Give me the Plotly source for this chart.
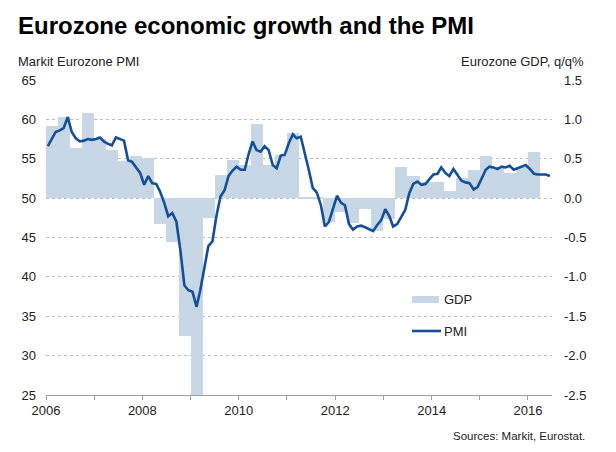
import pandas as pd
import plotly.graph_objects as go

# ---------------- data ----------------
# Markit Eurozone composite PMI, monthly Jan 2006 - Jun 2016
pmi_values = [
    56.6, 57.6, 58.4, 58.6, 58.9, 60.3, 58.4, 57.6, 57.2, 57.3, 57.5, 57.4,   # 2006
    57.5, 57.7, 57.2, 56.9, 56.7, 57.7, 57.5, 57.3, 54.8, 54.6, 53.9, 53.2,   # 2007
    51.7, 52.8, 51.9, 51.8, 50.8, 49.4, 47.7, 48.1, 47.0, 43.4, 38.9, 38.3,   # 2008
    38.1, 36.2, 38.3, 41.1, 43.9, 44.5, 47.7, 50.2, 51.0, 52.8, 53.5, 54.0,   # 2009
    53.6, 53.6, 55.5, 57.2, 56.1, 55.9, 56.6, 56.1, 54.2, 53.8, 55.4, 55.5,   # 2010
    57.0, 58.1, 57.6, 57.8, 55.9, 53.6, 51.3, 50.7, 49.1, 46.4, 47.0, 48.6,   # 2011
    50.3, 49.4, 49.1, 46.7, 46.0, 46.4, 46.5, 46.3, 46.0, 45.8, 46.6, 47.2,   # 2012
    48.6, 47.7, 46.4, 46.7, 47.6, 48.5, 50.6, 51.8, 52.1, 51.7, 51.8, 52.4,   # 2013
    53.0, 53.1, 53.9, 53.2, 52.8, 53.7, 53.0, 52.2, 52.0, 51.9, 51.1, 51.4,   # 2014
    52.5, 53.6, 54.0, 53.9, 53.7, 54.0, 53.9, 54.1, 53.6, 53.8, 54.1, 54.2,   # 2015
    53.7, 53.1, 53.0, 53.0, 53.0, 52.8,                                       # 2016
]
pmi_start = "2006-01-01"

# Eurozone GDP q/q %, quarterly 2006Q1 - 2016Q1
gdp_values = [
    0.92, 1.03, 0.64, 1.08,     # 2006
    0.75, 0.61, 0.47, 0.54,     # 2007
    0.51, -0.33, -0.56, -1.75,  # 2008
    -2.95, -0.25, 0.29, 0.49,   # 2009
    0.42, 0.94, 0.42, 0.55,     # 2010
    0.83, 0.02, 0.02, -0.30,    # 2011
    -0.17, -0.31, -0.14, -0.42, # 2012
    -0.27, 0.39, 0.28, 0.20,    # 2013
    0.20, 0.09, 0.25, 0.36,     # 2014
    0.54, 0.40, 0.32, 0.40,     # 2015
    0.58,                       # 2016
]
gdp_start = "2006-01-01"

x_tick_years = list(range(2006, 2017))
x_tick_labels = ["2006", "", "2008", "", "2010", "", "2012", "", "2014", "", "2016"]
pmi_ticks = [25, 30, 35, 40, 45, 50, 55, 60, 65]
gdp_ticks = [-2.5, -2.0, -1.5, -1.0, -0.5, 0.0, 0.5, 1.0, 1.5]
gdp_tick_labels = ["-2.5", "-2.0", "-1.5", "-1.0", "-0.5", "0.0", "0.5", "1.0", "1.5"]

title_text = "Eurozone economic growth and the PMI"
left_title = "Markit Eurozone PMI"
right_title = "Eurozone GDP, q/q%"
source_text = "Sources: Markit, Eurostat."

# ---------------- styling ----------------
FONT = "Liberation Sans, Arial, sans-serif"
BAR_COLOR = "#c8d7e5"
LINE_COLOR = "#144f99"
TEXT_COLOR = "#222222"
GRID_COLOR = "#bdbdbd"
AXIS_COLOR = "#a0a0a0"

W, H = 616, 452
ML, MR, MT, MB = 46, 64, 80, 57
PW, PH = W - ML - MR, H - MT - MB


def px(xp):
    return (xp - ML) / PW


def py(yp):
    return (H - MB - yp) / PH


months = pd.date_range(pmi_start, periods=len(pmi_values), freq="MS") + pd.Timedelta(days=14)
q_start = pd.date_range(gdp_start, periods=len(gdp_values), freq="QS")
q_end = q_start + pd.DateOffset(months=3)
q_width = [(e - s).total_seconds() * 1000 for s, e in zip(q_start, q_end)]

fig = go.Figure()
fig.add_trace(go.Bar(
    x=q_start, y=gdp_values, width=q_width, offset=0,
    marker=dict(color=BAR_COLOR, line=dict(width=0)),
    name="GDP", yaxis="y", showlegend=False,
))
fig.add_trace(go.Scatter(
    x=months, y=pmi_values, mode="lines",
    line=dict(color=LINE_COLOR, width=2.6),
    name="PMI", yaxis="y2", showlegend=False,
))

fig.update_layout(
    width=W, height=H,
    margin=dict(l=ML, r=MR, t=MT, b=MB),
    paper_bgcolor="white", plot_bgcolor="white",
    font=dict(family=FONT, size=13, color=TEXT_COLOR),
    bargap=0,
    xaxis=dict(
        type="date",
        range=["2006-01-01", "2016-07-01"],
        tickvals=[f"{y}-01-01" for y in x_tick_years],
        ticktext=x_tick_labels,
        ticks="outside", ticklen=4, tickcolor=AXIS_COLOR, tickwidth=1,
        showline=True, linecolor=AXIS_COLOR, linewidth=1,
        showgrid=False, zeroline=False,
        ticklabelstandoff=-1,
        tickfont=dict(size=13, color=TEXT_COLOR),
    ),
    yaxis=dict(
        side="right",
        range=[-2.5, 1.5],
        tickvals=gdp_ticks, ticktext=gdp_tick_labels,
        showgrid=True, gridcolor=GRID_COLOR, griddash="dot", gridwidth=1,
        zeroline=False, showline=False, ticks="",
        ticklabelstandoff=11,
        tickfont=dict(size=13, color=TEXT_COLOR),
    ),
    yaxis2=dict(
        side="left", overlaying="y",
        range=[25, 65],
        tickvals=pmi_ticks,
        showgrid=False, zeroline=False, showline=False, ticks="",
        ticklabelstandoff=9,
        tickfont=dict(size=13, color=TEXT_COLOR),
    ),
)

annotations = [
    dict(text=f"<b>{title_text}</b>", x=px(16), y=py(26), xref="paper", yref="paper",
         xanchor="left", yanchor="middle", showarrow=False,
         font=dict(size=24, color="#000000", family=FONT)),
    dict(text=left_title, x=px(16), y=py(62), xref="paper", yref="paper",
         xanchor="left", yanchor="middle", showarrow=False, font=dict(size=13)),
    dict(text=right_title, x=px(586), y=py(62), xref="paper", yref="paper",
         xanchor="right", yanchor="middle", showarrow=False, font=dict(size=13)),
    dict(text=source_text, x=px(587), y=py(436), xref="paper", yref="paper",
         xanchor="right", yanchor="middle", showarrow=False, font=dict(size=11.5)),
    dict(text="GDP", x=px(442), y=py(299.5), xref="paper", yref="paper",
         xanchor="left", yanchor="middle", showarrow=False, font=dict(size=13)),
    dict(text="PMI", x=px(442), y=py(331), xref="paper", yref="paper",
         xanchor="left", yanchor="middle", showarrow=False, font=dict(size=13)),
]
shapes = [
    dict(type="rect", xref="paper", yref="paper", x0=px(412), x1=px(439),
         y0=py(303), y1=py(296), fillcolor=BAR_COLOR, line=dict(width=0)),
    dict(type="line", xref="paper", yref="paper", x0=px(412), x1=px(441),
         y0=py(331), y1=py(331), line=dict(color=LINE_COLOR, width=2.6)),
]
fig.update_layout(annotations=annotations, shapes=shapes)

# remove the browser's default 8px page margin so the figure sits at (0, 0)
fig.write_html(
    "out.html",
    config={"displayModeBar": False},
    post_script="document.body.style.margin='0';",
)
